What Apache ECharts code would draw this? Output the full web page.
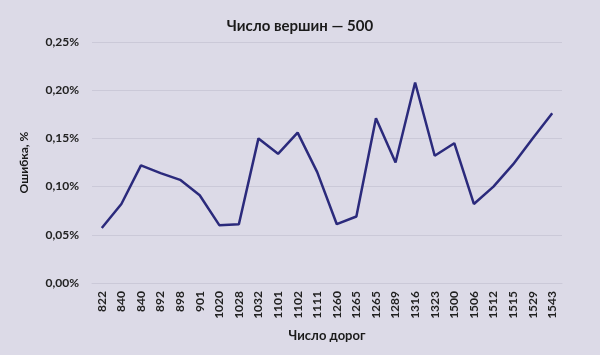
<!DOCTYPE html>
<html>
<head>
<meta charset="UTF-8">
<title>Число вершин — 500</title>
<script src="https://cdn.jsdelivr.net/npm/echarts@6/dist/echarts.min.js"></script>
<style>
  html, body { margin: 0; padding: 0; background: #dcdae7; }
  #chart { width: 600px; height: 355px; }
</style>
</head>
<body>
<div id="chart"></div>
<script>
// число дорог (категории по оси X)
var roads = ['822', '840', '840', '892', '898', '901', '1020', '1028', '1032', '1101', '1102', '1111',
             '1260', '1265', '1265', '1289', '1316', '1323', '1500', '1506', '1512', '1515', '1529', '1543'];
// ошибка, %
var errors = [0.057, 0.082, 0.122, 0.114, 0.107, 0.091, 0.060, 0.061, 0.150, 0.134, 0.156, 0.115,
              0.061, 0.069, 0.171, 0.125, 0.208, 0.132, 0.145, 0.082, 0.100, 0.123, 0.150, 0.176];

var font = 'Lato, "Open Sans", sans-serif';
var chart = echarts.init(document.getElementById('chart'));

chart.setOption({
  backgroundColor: '#dcdae7',
  animation: false,
  title: {
    text: 'Число вершин — 500',
    left: 'center',
    top: 14,
    textStyle: { fontFamily: font, fontSize: 15, fontWeight: 'bold', color: '#1a1a1a' }
  },
  grid: { left: 92, right: 38, top: 42, bottom: 72 },
  xAxis: {
    type: 'category',
    data: roads,
    boundaryGap: true,
    name: 'Число дорог',
    nameLocation: 'middle',
    nameGap: 46,
    nameTextStyle: { fontFamily: font, fontSize: 13, fontWeight: 'bold', color: '#1a1a1a' },
    axisLine: { show: true, lineStyle: { color: '#cbc9d8' } },
    axisTick: { show: false },
    axisLabel: { rotate: 90, interval: 0, margin: 8, fontFamily: font, fontSize: 12, fontWeight: 'bold', color: '#222' }
  },
  yAxis: {
    type: 'value',
    min: 0,
    max: 0.25,
    interval: 0.05,
    name: 'Ошибка, %',
    nameLocation: 'middle',
    nameGap: 62,
    nameTextStyle: { fontFamily: font, fontSize: 12, fontWeight: 'bold', color: '#1a1a1a' },
    axisLine: { show: false },
    axisTick: { show: false },
    splitLine: { lineStyle: { color: '#cbc9d8', width: 1 } },
    axisLabel: {
      margin: 13,
      fontFamily: font, fontSize: 12, fontWeight: 'bold', color: '#222',
      formatter: function (v) { return v.toFixed(2).replace('.', ',') + '%'; }
    }
  },
  series: [{
    type: 'line',
    data: errors,
    symbol: 'none',
    lineStyle: { color: '#2b2a7c', width: 2.5 },
    itemStyle: { color: '#2b2a7c' }
  }]
});
</script>
</body>
</html>
